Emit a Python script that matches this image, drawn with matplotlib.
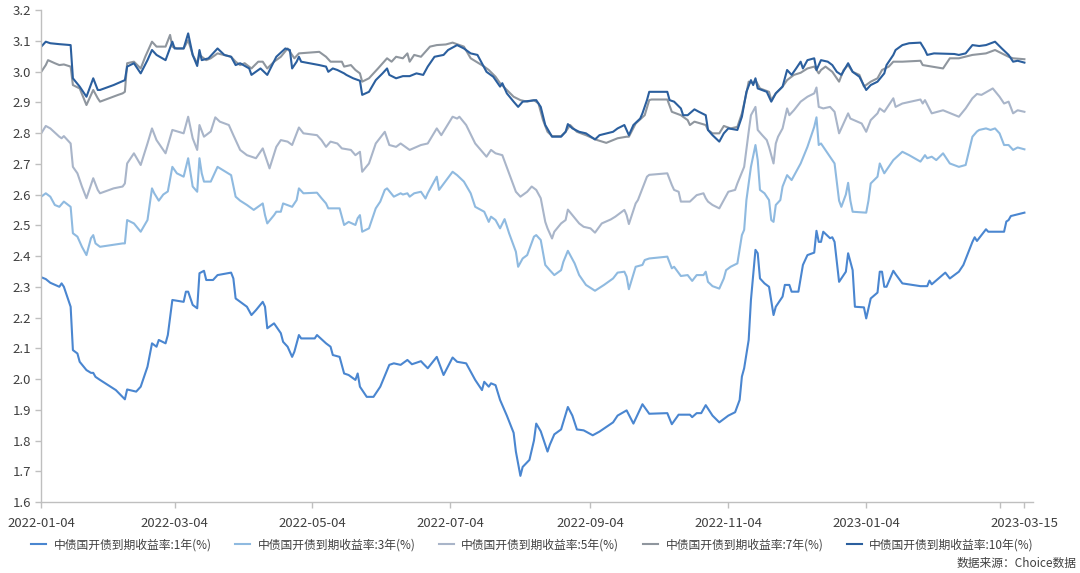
import matplotlib
matplotlib.use('Agg')
import matplotlib.pyplot as plt
import matplotlib.dates as mdates
import pandas as pd

plt.rcParams['font.family'] = ['Noto Sans CJK SC', 'DejaVu Sans']

start = pd.Timestamp('2022-01-04')

# 中债国开债到期收益率 (%), x = days since 2022-01-04
y1_days = [0, 2, 4, 8, 9, 10, 13, 14, 16, 17, 20, 22, 23, 24, 26, 33, 37, 38, 42, 44,
           47, 49, 51, 52, 55, 56, 58, 63, 64, 65, 67, 69, 70, 72, 73, 76, 78, 84, 85, 86,
           91, 93, 95, 98, 99, 100, 103, 106, 107, 109, 111, 112, 114, 115, 121, 122, 126, 128, 129, 132,
           134, 136, 139, 140, 141, 144, 147, 150, 154, 156, 159, 162, 164, 168, 169, 171, 175, 178, 182, 184,
           188, 192, 195, 196, 198, 199, 201, 203, 204, 206, 209, 210, 212, 213, 216, 218, 219, 221, 224, 225,
           227, 230, 233, 235, 237, 240, 244, 247, 253, 255, 259, 262, 266, 269, 277, 279, 282, 287, 288, 290,
           292, 294, 297, 300, 304, 307, 309, 310, 311, 313, 314, 316, 317, 318, 320, 322, 324, 325, 328, 329,
           331, 332, 335, 337, 339, 342, 343, 344, 345, 346, 349, 350, 351, 353, 356, 357, 359, 360, 364, 365,
           367, 370, 371, 372, 373, 374, 377, 378, 381, 389, 392, 393, 394, 400, 402, 406, 408, 412, 413, 414,
           418, 419, 426, 427, 428, 429, 435]
y1_vals = [2.331, 2.325, 2.313, 2.300, 2.311, 2.300, 2.235, 2.094, 2.083, 2.056, 2.029, 2.020, 2.020, 2.007, 1.997, 1.964, 1.934, 1.966, 1.959, 1.975,
           2.040, 2.116, 2.105, 2.127, 2.116, 2.143, 2.257, 2.251, 2.284, 2.284, 2.241, 2.230, 2.344, 2.352, 2.322, 2.322, 2.338, 2.346, 2.327, 2.262,
           2.235, 2.208, 2.224, 2.251, 2.235, 2.165, 2.181, 2.149, 2.121, 2.105, 2.072, 2.089, 2.143, 2.132, 2.132, 2.143, 2.116, 2.105, 2.078, 2.072,
           2.018, 2.013, 1.997, 2.018, 1.975, 1.942, 1.942, 1.975, 2.046, 2.051, 2.046, 2.062, 2.048, 2.058, 2.050, 2.035, 2.072, 2.013, 2.070, 2.056,
           2.051, 1.997, 1.964, 1.991, 1.975, 1.986, 1.980, 1.932, 1.915, 1.881, 1.825, 1.764, 1.685, 1.714, 1.737, 1.800, 1.855, 1.830, 1.764, 1.786,
           1.820, 1.836, 1.909, 1.881, 1.836, 1.833, 1.817, 1.829, 1.859, 1.881, 1.898, 1.855, 1.918, 1.887, 1.889, 1.853, 1.884, 1.884, 1.876, 1.889,
           1.889, 1.915, 1.881, 1.859, 1.881, 1.892, 1.932, 2.008, 2.035, 2.127, 2.257, 2.420, 2.409, 2.327, 2.311, 2.300, 2.208, 2.235, 2.268, 2.306,
           2.306, 2.284, 2.284, 2.371, 2.403, 2.411, 2.482, 2.446, 2.446, 2.479, 2.458, 2.461, 2.446, 2.316, 2.349, 2.409, 2.354, 2.235, 2.233, 2.197,
           2.262, 2.281, 2.349, 2.349, 2.300, 2.300, 2.352, 2.341, 2.311, 2.302, 2.302, 2.320, 2.308, 2.346, 2.327, 2.349, 2.371, 2.446, 2.461, 2.449,
           2.487, 2.479, 2.479, 2.512, 2.517, 2.530, 2.541]

y3_days = [0, 2, 4, 6, 8, 10, 13, 14, 16, 18, 20, 22, 23, 24, 26, 36, 37, 38, 41, 44,
           47, 49, 50, 52, 54, 56, 58, 60, 63, 65, 67, 69, 70, 71, 72, 75, 78, 84, 86, 88,
           91, 94, 98, 99, 100, 103, 104, 106, 107, 111, 113, 114, 116, 122, 124, 126, 127, 132, 134, 136,
           139, 140, 141, 142, 145, 148, 150, 152, 153, 156, 159, 160, 162, 163, 165, 168, 170, 171, 175, 176,
           182, 184, 187, 190, 191, 192, 196, 198, 199, 201, 203, 205, 207, 210, 211, 213, 215, 218, 219, 221,
           223, 225, 227, 230, 231, 233, 236, 238, 241, 245, 249, 253, 255, 258, 259, 260, 263, 266, 267, 269,
           277, 279, 280, 283, 286, 288, 290, 293, 294, 295, 297, 300, 302, 303, 305, 308, 310, 311, 312, 314,
           316, 317, 318, 320, 322, 323, 324, 325, 327, 328, 330, 332, 336, 339, 342, 343, 344, 345, 351, 353,
           354, 356, 357, 358, 359, 365, 366, 367, 370, 371, 373, 377, 381, 384, 389, 391, 392, 394, 396, 399,
           402, 406, 409, 412, 414, 415, 418, 420, 422, 424, 426, 428, 430, 432, 435]
y3_vals = [2.593, 2.604, 2.593, 2.566, 2.560, 2.577, 2.560, 2.474, 2.463, 2.430, 2.403, 2.458, 2.468, 2.441, 2.430, 2.441, 2.441, 2.517, 2.506, 2.479,
           2.517, 2.620, 2.604, 2.580, 2.600, 2.610, 2.690, 2.669, 2.658, 2.718, 2.626, 2.609, 2.718, 2.669, 2.642, 2.642, 2.690, 2.663, 2.593, 2.580,
           2.566, 2.550, 2.571, 2.533, 2.506, 2.533, 2.544, 2.544, 2.571, 2.560, 2.582, 2.620, 2.604, 2.606, 2.588, 2.571, 2.555, 2.555, 2.501, 2.511,
           2.501, 2.523, 2.533, 2.479, 2.490, 2.555, 2.577, 2.615, 2.620, 2.593, 2.604, 2.600, 2.604, 2.593, 2.604, 2.609, 2.587, 2.604, 2.658, 2.615,
           2.674, 2.663, 2.642, 2.604, 2.582, 2.560, 2.544, 2.511, 2.528, 2.517, 2.490, 2.520, 2.474, 2.414, 2.365, 2.392, 2.403, 2.463, 2.468, 2.452,
           2.371, 2.354, 2.338, 2.354, 2.381, 2.417, 2.376, 2.338, 2.306, 2.287, 2.306, 2.327, 2.346, 2.349, 2.333, 2.292, 2.365, 2.371, 2.387, 2.392,
           2.398, 2.360, 2.365, 2.335, 2.338, 2.319, 2.338, 2.338, 2.349, 2.316, 2.302, 2.294, 2.327, 2.354, 2.365, 2.376, 2.468, 2.485, 2.582, 2.690,
           2.761, 2.712, 2.615, 2.604, 2.582, 2.517, 2.511, 2.566, 2.582, 2.626, 2.663, 2.647, 2.701, 2.755, 2.820, 2.851, 2.761, 2.766, 2.701, 2.580,
           2.560, 2.600, 2.638, 2.580, 2.544, 2.541, 2.580, 2.636, 2.658, 2.701, 2.669, 2.712, 2.739, 2.728, 2.707, 2.728, 2.718, 2.723, 2.712, 2.734,
           2.701, 2.690, 2.696, 2.788, 2.805, 2.810, 2.815, 2.810, 2.815, 2.799, 2.761, 2.761, 2.745, 2.753, 2.747]

y5_days = [0, 2, 4, 8, 9, 10, 13, 14, 16, 18, 20, 22, 23, 25, 26, 32, 36, 37, 38, 41,
           44, 47, 49, 51, 55, 58, 63, 65, 67, 69, 70, 72, 75, 77, 79, 83, 85, 88, 91, 95,
           98, 101, 104, 106, 109, 111, 114, 116, 122, 124, 126, 128, 131, 133, 137, 139, 141, 142, 145, 148,
           152, 154, 157, 159, 163, 168, 171, 175, 177, 182, 184, 185, 188, 192, 197, 199, 201, 204, 207, 210,
           212, 215, 217, 219, 221, 223, 224, 226, 227, 230, 232, 233, 235, 238, 240, 243, 245, 248, 252, 254,
           258, 259, 260, 263, 264, 268, 269, 277, 279, 280, 282, 283, 287, 290, 293, 294, 295, 297, 300, 304,
           307, 308, 311, 313, 314, 316, 317, 319, 321, 322, 324, 325, 326, 328, 330, 331, 333, 336, 339, 342,
           343, 344, 346, 349, 351, 353, 357, 358, 363, 365, 367, 370, 371, 373, 377, 378, 381, 389, 390, 391,
           394, 399, 406, 409, 412, 414, 416, 421, 424, 426, 428, 430, 432, 435]
y5_vals = [2.799, 2.823, 2.815, 2.788, 2.783, 2.790, 2.766, 2.690, 2.669, 2.626, 2.588, 2.631, 2.653, 2.615, 2.604, 2.620, 2.626, 2.636, 2.701, 2.734,
           2.696, 2.766, 2.815, 2.777, 2.734, 2.810, 2.799, 2.853, 2.783, 2.745, 2.826, 2.788, 2.805, 2.851, 2.837, 2.826, 2.793, 2.745, 2.728, 2.718,
           2.750, 2.685, 2.755, 2.777, 2.772, 2.761, 2.818, 2.799, 2.793, 2.777, 2.755, 2.772, 2.766, 2.750, 2.745, 2.728, 2.739, 2.674, 2.701, 2.766,
           2.804, 2.761, 2.755, 2.766, 2.745, 2.761, 2.766, 2.815, 2.793, 2.853, 2.847, 2.853, 2.826, 2.766, 2.723, 2.745, 2.734, 2.728, 2.669, 2.609,
           2.593, 2.609, 2.626, 2.615, 2.588, 2.511, 2.490, 2.457, 2.479, 2.506, 2.517, 2.551, 2.533, 2.506, 2.495, 2.490, 2.476, 2.506, 2.519, 2.528,
           2.550, 2.533, 2.504, 2.571, 2.582, 2.658, 2.664, 2.669, 2.631, 2.615, 2.609, 2.577, 2.577, 2.598, 2.604, 2.588, 2.577, 2.566, 2.555, 2.609,
           2.615, 2.636, 2.690, 2.804, 2.858, 2.885, 2.810, 2.793, 2.777, 2.755, 2.701, 2.766, 2.788, 2.815, 2.880, 2.858, 2.874, 2.902, 2.918, 2.929,
           2.948, 2.885, 2.880, 2.885, 2.869, 2.799, 2.864, 2.847, 2.831, 2.804, 2.842, 2.864, 2.880, 2.869, 2.913, 2.885, 2.896, 2.909, 2.896, 2.907,
           2.864, 2.874, 2.853, 2.880, 2.913, 2.927, 2.924, 2.945, 2.918, 2.896, 2.902, 2.864, 2.874, 2.869]

y7_days = [0, 2, 3, 6, 8, 10, 13, 14, 17, 20, 23, 25, 26, 30, 34, 36, 37, 38, 41, 44,
           46, 49, 51, 55, 57, 58, 60, 63, 65, 67, 69, 70, 73, 75, 78, 84, 86, 88, 90, 93,
           96, 98, 100, 103, 106, 109, 111, 112, 114, 123, 126, 128, 133, 134, 137, 139, 141, 142, 145, 149,
           153, 155, 157, 160, 162, 163, 165, 168, 172, 175, 179, 182, 187, 190, 196, 198, 201, 203, 206, 209,
           212, 215, 218, 220, 222, 224, 226, 230, 232, 234, 237, 241, 246, 250, 255, 259, 260, 263, 267, 269,
           270, 277, 279, 283, 286, 287, 289, 294, 295, 297, 300, 302, 305, 308, 310, 312, 313, 315, 316, 318,
           322, 323, 325, 328, 330, 333, 336, 339, 342, 344, 345, 347, 350, 353, 355, 357, 359, 362, 364, 367,
           370, 372, 375, 377, 381, 389, 390, 399, 402, 406, 412, 418, 422, 425, 428, 430, 435]
y7_vals = [2.999, 3.021, 3.037, 3.027, 3.021, 3.023, 3.016, 2.956, 2.945, 2.891, 2.940, 2.913, 2.902, 2.913, 2.924, 2.929, 2.934, 3.027, 3.032, 3.010,
           3.048, 3.097, 3.081, 3.081, 3.119, 3.081, 3.075, 3.075, 3.102, 3.054, 3.027, 3.054, 3.037, 3.043, 3.059, 3.048, 3.032, 3.021, 3.027, 3.010,
           3.032, 3.032, 3.010, 3.032, 3.048, 3.075, 3.054, 3.043, 3.059, 3.064, 3.048, 3.032, 3.032, 3.016, 3.021, 3.005, 2.994, 2.967, 2.978, 3.010,
           3.043, 3.032, 3.048, 3.043, 3.059, 3.032, 3.054, 3.048, 3.081, 3.086, 3.088, 3.094, 3.081, 3.043, 3.016, 3.005, 2.983, 2.962, 2.940, 2.918,
           2.907, 2.902, 2.907, 2.896, 2.842, 2.804, 2.790, 2.790, 2.804, 2.826, 2.804, 2.793, 2.777, 2.768, 2.783, 2.788, 2.788, 2.831, 2.858, 2.907,
           2.909, 2.909, 2.869, 2.858, 2.842, 2.826, 2.837, 2.826, 2.810, 2.799, 2.799, 2.823, 2.815, 2.820, 2.864, 2.929, 2.967, 2.962, 2.972, 2.945,
           2.934, 2.907, 2.929, 2.951, 2.972, 2.989, 2.996, 3.010, 3.016, 2.994, 3.005, 3.016, 2.999, 2.967, 3.005, 3.021, 2.999, 2.989, 2.951, 2.967,
           2.978, 3.005, 3.016, 3.032, 3.032, 3.035, 3.021, 3.010, 3.043, 3.043, 3.054, 3.059, 3.070, 3.059, 3.048, 3.043, 3.040]

y10_days = [0, 2, 4, 8, 13, 14, 17, 20, 23, 25, 26, 32, 37, 38, 41, 44, 47, 49, 51, 55,
            58, 59, 63, 65, 67, 69, 70, 71, 74, 78, 81, 84, 86, 88, 92, 93, 97, 100, 104, 108,
            110, 111, 113, 114, 115, 123, 126, 127, 129, 131, 134, 135, 138, 141, 142, 145, 148, 151, 153, 154,
            157, 160, 163, 166, 169, 171, 174, 178, 180, 184, 187, 190, 193, 197, 200, 203, 204, 206, 209, 211,
            213, 219, 221, 223, 226, 230, 232, 233, 235, 238, 241, 245, 247, 253, 255, 258, 260, 262, 265, 266,
            268, 269, 277, 278, 280, 283, 284, 286, 289, 291, 294, 295, 297, 300, 302, 304, 308, 310, 312, 314,
            315, 316, 317, 321, 323, 325, 328, 330, 332, 334, 336, 337, 339, 342, 343, 345, 348, 350, 352, 354,
            357, 359, 362, 365, 367, 370, 373, 374, 377, 378, 381, 384, 389, 391, 392, 395, 404, 406, 409, 412,
            415, 418, 422, 425, 428, 430, 432, 435]
y10_vals = [3.081, 3.097, 3.092, 3.089, 3.086, 2.978, 2.951, 2.918, 2.978, 2.940, 2.940, 2.956, 2.972, 3.016, 3.027, 2.994, 3.037, 3.070, 3.054, 3.037,
            3.097, 3.075, 3.075, 3.124, 3.054, 3.018, 3.070, 3.037, 3.043, 3.075, 3.054, 3.048, 3.021, 3.027, 3.010, 2.989, 3.010, 2.989, 3.048, 3.075,
            3.070, 3.010, 3.032, 3.048, 3.032, 3.021, 3.016, 2.999, 3.010, 3.005, 2.994, 2.989, 2.978, 2.970, 2.924, 2.934, 2.972, 2.994, 3.010, 2.989,
            2.978, 2.985, 2.985, 2.994, 2.989, 3.016, 3.048, 3.054, 3.070, 3.086, 3.075, 3.059, 3.054, 2.999, 2.983, 2.951, 2.962, 2.929, 2.902, 2.885,
            2.902, 2.907, 2.885, 2.826, 2.788, 2.788, 2.804, 2.829, 2.815, 2.804, 2.799, 2.779, 2.793, 2.804, 2.815, 2.826, 2.793, 2.826, 2.847, 2.864,
            2.907, 2.934, 2.934, 2.907, 2.902, 2.880, 2.858, 2.858, 2.877, 2.869, 2.858, 2.810, 2.793, 2.772, 2.799, 2.815, 2.810, 2.853, 2.934, 2.972,
            2.956, 2.978, 2.945, 2.934, 2.902, 2.929, 2.951, 3.005, 2.989, 3.010, 3.032, 3.010, 3.037, 3.043, 3.005, 3.037, 3.032, 3.021, 2.999, 2.989,
            3.027, 2.999, 2.983, 2.940, 2.956, 2.967, 2.994, 3.021, 3.054, 3.070, 3.086, 3.092, 3.094, 3.070, 3.054, 3.059, 3.057, 3.054, 3.059, 3.086,
            3.083, 3.086, 3.097, 3.075, 3.054, 3.032, 3.035, 3.029]

labels = ['中债国开债到期收益率:1年(%)', '中债国开债到期收益率:3年(%)', '中债国开债到期收益率:5年(%)',
          '中债国开债到期收益率:7年(%)', '中债国开债到期收益率:10年(%)']
colors = ['#4a86d0', '#8fbae0', '#a9b5c9', '#8f969e', '#2b5f9e']

tick_dates = ['2022-01-04', '2022-03-04', '2022-05-04', '2022-07-04', '2022-09-04',
              '2022-11-04', '2023-01-04', '2023-03-04', '2023-03-15']
tick_labels = ['2022-01-04', '2022-03-04', '2022-05-04', '2022-07-04', '2022-09-04',
               '2022-11-04', '2023-01-04', '', '2023-03-15']


def to_dates(days):
    return start + pd.to_timedelta(days, unit='D')


fig = plt.figure(figsize=(10.8, 5.73), dpi=100)
ax = fig.add_axes([0.0382, 0.1239, 0.9187, 0.8586])

series = [(y1_days, y1_vals), (y3_days, y3_vals), (y5_days, y5_vals),
          (y7_days, y7_vals), (y10_days, y10_vals)]
for (d, v), lab, c in zip(series, labels, colors):
    ax.plot(to_dates(d), v, color=c, lw=1.5, label=lab, solid_joinstyle='round')

ax.set_ylim(1.6, 3.2)
ax.set_yticks([1.6 + 0.1 * i for i in range(17)])
ax.yaxis.set_major_formatter(plt.FormatStrFormatter('%.1f'))
ax.set_xlim(start, start + pd.Timedelta(days=439))
ax.set_xticks(pd.to_datetime(tick_dates))
ax.set_xticklabels(tick_labels)

for s in ['top', 'right']:
    ax.spines[s].set_visible(False)
for s in ['left', 'bottom']:
    ax.spines[s].set_color('#bfbfbf')
    ax.spines[s].set_linewidth(1.0)
ax.tick_params(axis='both', colors='#bfbfbf', labelcolor='#404040', labelsize=9.5, length=4, width=1.0)
ax.tick_params(axis='x', pad=7)

fig.legend(loc='center', bbox_to_anchor=(0.493, 0.049), ncol=5, frameon=False,
           fontsize=8.5, handlelength=1.3, handletextpad=0.6, columnspacing=2.0,
           labelcolor='#404040')
fig.text(0.997, 0.017, '数据来源：Choice数据', ha='right', va='center', fontsize=8.5, color='#404040')

fig.savefig('out.png', dpi=100)
